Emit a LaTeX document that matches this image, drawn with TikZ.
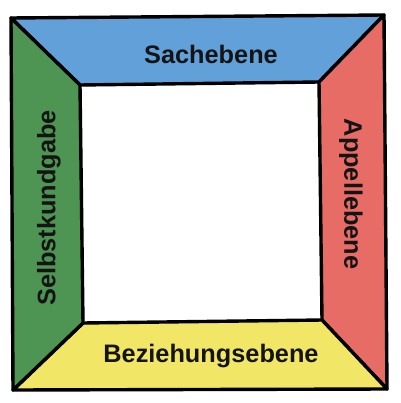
\documentclass[tikz,border=0pt]{standalone}
\usepackage{fontspec}
\setmainfont{Liberation Sans}
\begin{document}
\begin{tikzpicture}[x=1pt,y=-1pt,
  band/.style={draw=black,line width=3.4pt,line join=round},
  lbl/.style={font=\bfseries\fontsize{25.3}{29}\selectfont,text=black!92,inner sep=0pt}]
\definecolor{cblue}{RGB}{98,160,218}
\definecolor{cred}{RGB}{232,108,102}
\definecolor{cgreen}{RGB}{78,148,82}
\definecolor{cyellow}{RGB}{242,230,102}
\useasboundingbox (0,0) rectangle (400,403);
\coordinate (OTL) at (11,18);
\coordinate (OTR) at (384,15);
\coordinate (OBR) at (387,389);
\coordinate (OBL) at (13,390);
\coordinate (ITL) at (80,85);
\coordinate (ITR) at (319,82);
\coordinate (IBR) at (322,320);
\coordinate (IBL) at (83,323);
\draw[band,fill=cblue] (OTL) -- (OTR) -- (ITR) -- (ITL) -- cycle;
\draw[band,fill=cred] (OTR) -- (OBR) -- (IBR) -- (ITR) -- cycle;
\draw[band,fill=cyellow] (OBR) -- (OBL) -- (IBL) -- (IBR) -- cycle;
\draw[band,fill=cgreen] (OBL) -- (OTL) -- (ITL) -- (IBL) -- cycle;
\node[lbl] (sach) at (211,54) {Sachebene};
\node[lbl] (bez) at (211,356) {Beziehungsebene};
\node[lbl,rotate=-90] (app) at (351,194) {Appellebene};
\node[lbl,rotate=90] (selbst) at (49,208) {Selbstkundgabe};
\end{tikzpicture}
\end{document}
